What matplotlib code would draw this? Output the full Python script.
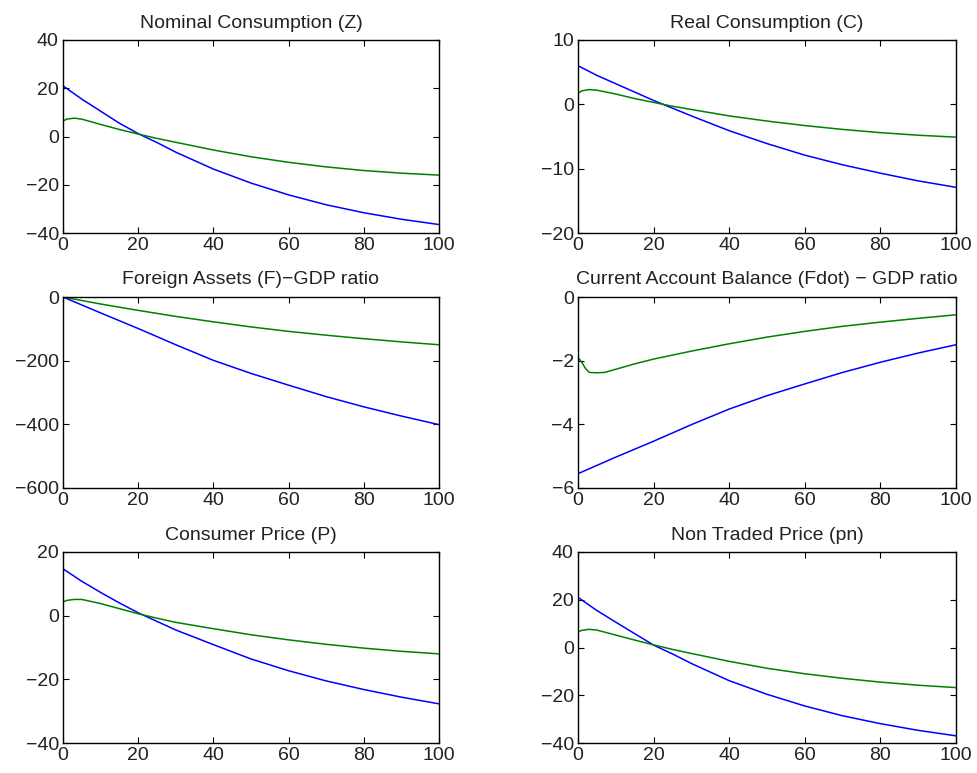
import matplotlib
matplotlib.use("Agg")
import matplotlib.pyplot as plt

plt.rcParams['font.family'] = ['Liberation Sans', 'DejaVu Sans']

# ---- data ----
titles = ["Nominal Consumption (Z)", "Real Consumption (C)",
          "Foreign Assets (F)\u2212GDP ratio", "Current Account Balance (Fdot) \u2212 GDP ratio",
          "Consumer Price (P)", "Non Traded Price (pn)"]

ylims = [(-40, 40), (-20, 10), (-600, 0), (-6, 0), (-40, 20), (-40, 40)]
yticks = [[-40, -20, 0, 20, 40], [-20, -10, 0, 10], [-600, -400, -200, 0],
          [-6, -4, -2, 0], [-40, -20, 0, 20], [-40, -20, 0, 20, 40]]
xticks = [0, 20, 40, 60, 80, 100]

# Nominal Consumption
z_blue_x = [0, 5, 10, 15, 20, 25, 30, 40, 50, 60, 70, 80, 90, 100]
z_blue_y = [21, 15.5, 10.5, 5.5, 1.2, -2.5, -6.5, -13.5, -19.3, -24.2, -28.3, -31.6, -34.3, -36.5]
z_green_x = [0, 1, 3, 5, 10, 15, 20, 25, 30, 40, 50, 60, 70, 80, 90, 100]
z_green_y = [6.4, 7.2, 7.6, 7.2, 5.0, 2.9, 1.0, -0.8, -2.4, -5.6, -8.4, -10.7, -12.6, -14.1, -15.2, -16.0]

# Real Consumption
c_blue_x = [0, 5, 10, 15, 20, 25, 30, 40, 50, 60, 70, 80, 90, 100]
c_blue_y = [6.0, 4.5, 3.2, 1.9, 0.6, -0.6, -1.8, -4.1, -6.1, -7.9, -9.4, -10.7, -11.9, -12.9]
c_green_x = [0, 1, 3, 5, 10, 15, 20, 25, 30, 40, 50, 60, 70, 80, 90, 100]
c_green_y = [1.7, 2.1, 2.3, 2.2, 1.6, 0.9, 0.3, -0.3, -0.8, -1.8, -2.6, -3.3, -3.9, -4.4, -4.8, -5.1]

# Foreign Assets
f_blue_x = [0, 10, 20, 30, 40, 50, 60, 70, 80, 90, 100]
f_blue_y = [0, -50, -99, -150, -199, -240, -277, -313, -345, -374, -401]
f_green_x = [0, 10, 20, 30, 40, 50, 60, 70, 80, 90, 100]
f_green_y = [0, -22, -42, -61, -78, -94, -108, -120, -131, -141, -150]

# Current Account
ca_blue_x = [0, 10, 20, 30, 40, 50, 60, 70, 80, 90, 100]
ca_blue_y = [-5.55, -5.03, -4.53, -4.01, -3.52, -3.10, -2.73, -2.37, -2.05, -1.76, -1.50]
ca_green_x = [0, 1, 2, 3, 5, 7, 10, 15, 20, 30, 40, 50, 60, 70, 80, 90, 100]
ca_green_y = [-1.9, -2.05, -2.25, -2.37, -2.38, -2.37, -2.27, -2.10, -1.95, -1.70, -1.47,
              -1.26, -1.08, -0.92, -0.79, -0.67, -0.56]

# Consumer Price
p_blue_x = [0, 5, 10, 15, 20, 25, 30, 40, 50, 60, 70, 80, 90, 100]
p_blue_y = [14.7, 10.8, 7.3, 4.0, 0.9, -1.8, -4.5, -9.1, -13.6, -17.3, -20.5, -23.2, -25.6, -27.7]
p_green_x = [0, 1, 3, 5, 10, 15, 20, 25, 30, 40, 50, 60, 70, 80, 90, 100]
p_green_y = [4.3, 4.8, 5.1, 5.1, 3.8, 2.2, 0.6, -0.8, -2.1, -4.1, -6.0, -7.6, -9.0, -10.2, -11.2, -12.0]

# Non Traded Price
pn_blue_x = [0, 5, 10, 15, 20, 25, 30, 40, 50, 60, 70, 80, 90, 100]
pn_blue_y = [21, 15.5, 10.6, 5.8, 1.0, -2.7, -6.7, -13.9, -19.6, -24.5, -28.6, -31.9, -34.7, -37.0]
pn_green_x = [0, 1, 3, 5, 10, 15, 20, 25, 30, 40, 50, 60, 70, 80, 90, 100]
pn_green_y = [6.5, 7.2, 7.6, 7.3, 5.2, 3.1, 1.1, -0.8, -2.5, -5.8, -8.7, -11.0, -12.9, -14.5, -15.8, -16.8]

series = [
    (z_blue_x, z_blue_y, z_green_x, z_green_y),
    (c_blue_x, c_blue_y, c_green_x, c_green_y),
    (f_blue_x, f_blue_y, f_green_x, f_green_y),
    (ca_blue_x, ca_blue_y, ca_green_x, ca_green_y),
    (p_blue_x, p_blue_y, p_green_x, p_green_y),
    (pn_blue_x, pn_blue_y, pn_green_x, pn_green_y),
]

# ---- layout ----
W, H = 978, 773
fig = plt.figure(figsize=(W / 100, H / 100), dpi=100)
col_lr = [(63, 439), (578, 956)]
row_tb = [(40, 233), (297, 488), (552, 743)]
txt = '#222222'

for i in range(6):
    r, c = divmod(i, 2)
    l, rr = col_lr[c]
    t, b = row_tb[r]
    ax = fig.add_axes([l / W, 1 - b / H, (rr - l) / W, (b - t) / H])
    bx, by, gx, gy = series[i]
    ax.plot(bx, by, color='#0000ff', lw=1.1)
    ax.plot(gx, gy, color='#008000', lw=1.1)
    ax.set_xlim(0, 100)
    ax.set_ylim(*ylims[i])
    ax.set_xticks(xticks)
    ax.set_yticks(yticks[i])
    ax.set_yticklabels([str(v).replace('-', '\u2212') for v in yticks[i]])
    ax.tick_params(direction='in', top=True, right=True, length=4, width=0.8,
                   labelsize=14, pad=3, labelcolor=txt)
    for s in ax.spines.values():
        s.set_linewidth(1.0)
    ax.set_title(titles[i], fontsize=14, pad=9, color=txt)

fig.savefig("out.png", dpi=100)
